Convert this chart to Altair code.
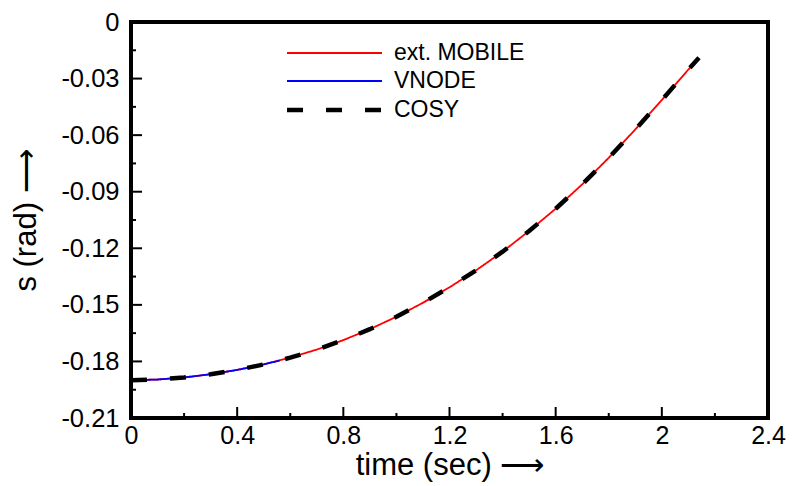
import altair as alt
import pandas as pd

# ---- data ----
t_mobile = [0.0, 0.1, 0.2, 0.3, 0.4, 0.5, 0.6, 0.7, 0.8, 0.9, 1.0, 1.1, 1.2,
            1.3, 1.4, 1.5, 1.6, 1.7, 1.8, 1.9, 2.0, 2.1, 2.14]
s_mobile = [-0.1900, -0.1896, -0.1885, -0.1868, -0.1845, -0.1816, -0.1780,
            -0.1737, -0.1687, -0.1629, -0.1563, -0.1489, -0.1407, -0.1317,
            -0.1218, -0.1108, -0.0990, -0.0861, -0.0720, -0.0570, -0.0414,
            -0.0252, -0.0190]

t_vnode = [0.0, 0.1, 0.2, 0.3, 0.4, 0.5, 0.56]
s_vnode = [-0.1900, -0.1896, -0.1885, -0.1868, -0.1845, -0.1816, -0.1795]

t_cosy = t_mobile
s_cosy = s_mobile

series_names = ["ext. MOBILE", "VNODE", "COSY"]
series_colors = ["#ff0000", "#0000ff", "#000000"]
series_dash = [[1, 0], [1, 0], [16, 23]]
series_width = [1.8, 1.8, 4.5]

x_major = [0, 0.4, 0.8, 1.2, 1.6, 2, 2.4]
x_minor = [0.2, 0.6, 1.0, 1.4, 1.8, 2.2]
y_major = [0, -0.03, -0.06, -0.09, -0.12, -0.15, -0.18, -0.21]
y_minor = [-0.015, -0.045, -0.075, -0.105, -0.135, -0.165, -0.195]

W, H = 637, 396
FONT = "Liberation Sans"

rows = []
for name, ts, ss in [(series_names[0], t_mobile, s_mobile),
                     (series_names[1], t_vnode, s_vnode),
                     (series_names[2], t_cosy, s_cosy)]:
    for t, s in zip(ts, ss):
        rows.append({"series": name, "t": t, "s": s})
df = pd.DataFrame(rows)

xscale = alt.Scale(domain=[0, 2.4], nice=False, zero=False)
yscale = alt.Scale(domain=[-0.21, 0], nice=False, zero=False)

leg = alt.Legend(
    title=None, orient="none", legendX=155, legendY=19.5, padding=0,
    symbolType="M-4.75,0H4.75", symbolSize=400, symbolOffset=36,
    labelOffset=47, labelFontSize=23, labelFont=FONT, labelColor="black",
    rowPadding=4, labelLimit=300,
)

x_enc = alt.X("t:Q", scale=xscale, axis=alt.Axis(
    values=x_major, labelExpr="'' + datum.value", title="time (sec)    ⟶",
    titleFontSize=31, titleFont=FONT, titleFontWeight="normal", titlePadding=2,
    labelFontSize=25, labelFont=FONT, labelPadding=5, tickSize=0,
    domain=False, grid=False, labelColor="black", titleColor="black",
    labelFlush=False, labelOverlap=False))
y_enc = alt.Y("s:Q", scale=yscale, axis=alt.Axis(
    values=y_major, labelExpr="'' + datum.value", title="s (rad) ⟶",
    titleFontSize=31, titleFont=FONT, titleFontWeight="normal", titlePadding=18,
    labelFontSize=25.5, labelFont=FONT, labelPadding=12, tickSize=0,
    domain=False, grid=False, labelColor="black", titleColor="black",
    labelFlush=False, labelOverlap=False))

color_enc = alt.Color("series:N", scale=alt.Scale(domain=series_names, range=series_colors), legend=leg)
dash_enc = alt.StrokeDash("series:N", scale=alt.Scale(domain=series_names, range=series_dash), legend=leg)
width_enc = alt.StrokeWidth("series:N", scale=alt.Scale(type="ordinal", domain=series_names, range=series_width), legend=leg)

base = alt.Chart(df)
layers = []
for name in series_names:
    layers.append(
        base.transform_filter(alt.datum.series == name).mark_line(strokeCap="butt").encode(
            x=x_enc, y=y_enc, color=color_enc, strokeDash=dash_enc, strokeWidth=width_enc,
            order="t:Q")
    )

xmaj = alt.Chart(pd.DataFrame({"v": x_major[1:-1]})).mark_rule(color="black", strokeWidth=2).encode(
    x=alt.X("v:Q", scale=xscale), y=alt.value(H), y2=alt.value(H - 11))
xmin = alt.Chart(pd.DataFrame({"v": x_minor})).mark_rule(color="black", strokeWidth=2).encode(
    x=alt.X("v:Q", scale=xscale), y=alt.value(H), y2=alt.value(H - 5))
ymaj = alt.Chart(pd.DataFrame({"v": y_major[1:-1]})).mark_rule(color="black", strokeWidth=2).encode(
    y=alt.Y("v:Q", scale=yscale), x=alt.value(0), x2=alt.value(11))
ymin = alt.Chart(pd.DataFrame({"v": y_minor})).mark_rule(color="black", strokeWidth=2).encode(
    y=alt.Y("v:Q", scale=yscale), x=alt.value(0), x2=alt.value(5))

chart = alt.layer(xmaj, xmin, ymaj, ymin, *layers).properties(
    width=W, height=H,
    background="white",
    autosize=alt.AutoSizeParams(type="none"),
    padding={"left": 123, "top": 14, "right": 20, "bottom": 70},
).configure_view(stroke="black", strokeWidth=4)

chart.save("out.html", embed_options={"renderer": "svg", "actions": False})
